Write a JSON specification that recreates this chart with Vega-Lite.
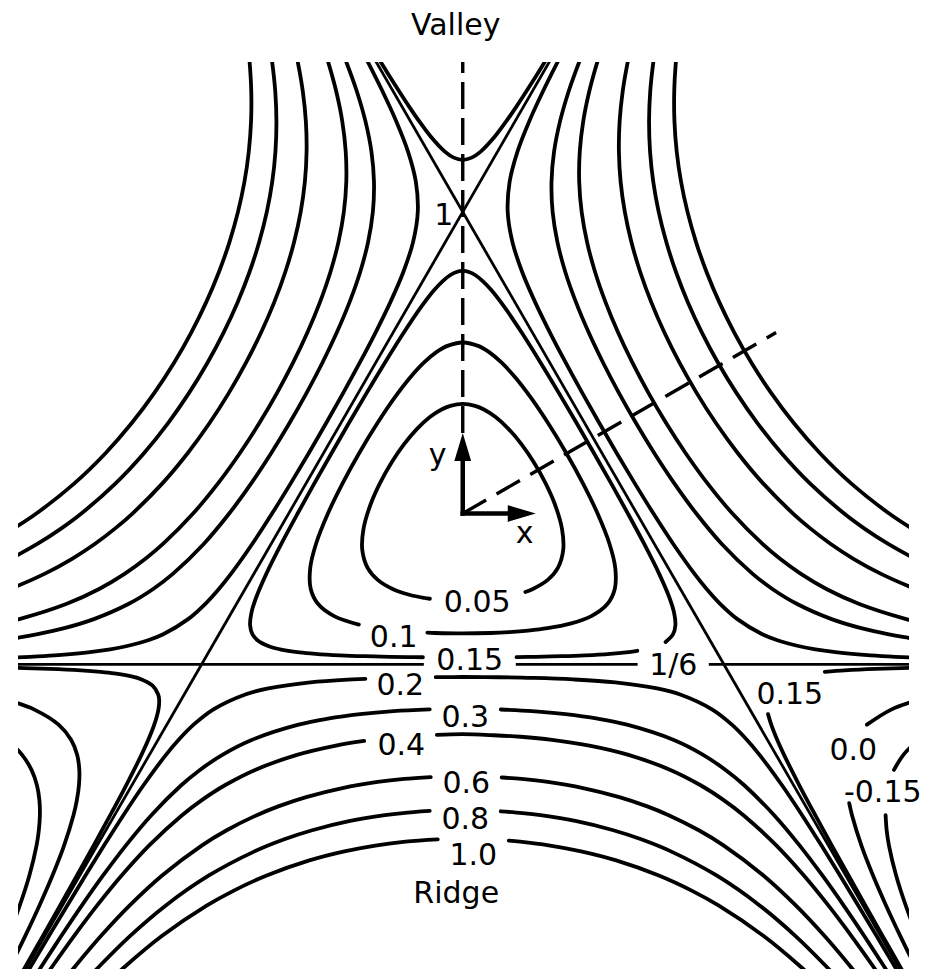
{
  "$schema": "https://vega.github.io/schema/vega-lite/v6.json",
  "width": 891,
  "height": 907,
  "autosize": {"type": "none"},
  "padding": {"left": 18, "top": 62, "right": 21, "bottom": 8},
  "background": "white",
  "config": {"view": {"stroke": null}},
  "datasets": {
    "contours": [
      {"c":"r10","x":1.55,"y":-0.085},{"c":"r10","x":1.4898,"y":-0.05},{"c":"r10","x":1.4142,"y":0},{"c":"r10","x":1.288,"y":0.1},{"c":"r10","x":1.1848,"y":0.2},{"c":"r10","x":1.0977,"y":0.3},{"c":"r10","x":1.0227,"y":0.4},{"c":"r10","x":0.9574,"y":0.5},{"c":"r10","x":0.9005,"y":0.6},{"c":"r10","x":0.8511,"y":0.7},{"c":"r10","x":0.8089,"y":0.8},{"c":"r10","x":0.7737,"y":0.9},{"c":"r10","x":0.7454,"y":1.0},{"c":"r10","x":0.724,"y":1.1},{"c":"r10","x":0.7096,"y":1.2},{"c":"r10","x":0.7021,"y":1.3},{"c":"r10","x":0.7014,"y":1.4},{"c":"r10","x":0.7071,"y":1.5},{"c":"r10","x":0.7123,"y":1.55},
      {"c":"l10","x":-1.55,"y":-0.085},{"c":"l10","x":-1.4898,"y":-0.05},{"c":"l10","x":-1.4142,"y":0},{"c":"l10","x":-1.288,"y":0.1},{"c":"l10","x":-1.1848,"y":0.2},{"c":"l10","x":-1.0977,"y":0.3},{"c":"l10","x":-1.0227,"y":0.4},{"c":"l10","x":-0.9574,"y":0.5},{"c":"l10","x":-0.9005,"y":0.6},{"c":"l10","x":-0.8511,"y":0.7},{"c":"l10","x":-0.8089,"y":0.8},{"c":"l10","x":-0.7737,"y":0.9},{"c":"l10","x":-0.7454,"y":1.0},{"c":"l10","x":-0.724,"y":1.1},{"c":"l10","x":-0.7096,"y":1.2},{"c":"l10","x":-0.7021,"y":1.3},{"c":"l10","x":-0.7014,"y":1.4},{"c":"l10","x":-0.7071,"y":1.5},{"c":"l10","x":-0.7123,"y":1.55},
      {"c":"r08","x":1.55,"y":-0.174},{"c":"r08","x":1.5001,"y":-0.15},{"c":"r08","x":1.4095,"y":-0.1},{"c":"r08","x":1.3323,"y":-0.05},{"c":"r08","x":1.2649,"y":0},{"c":"r08","x":1.1513,"y":0.1},{"c":"r08","x":1.0574,"y":0.2},{"c":"r08","x":0.9772,"y":0.3},{"c":"r08","x":0.9076,"y":0.4},{"c":"r08","x":0.8466,"y":0.5},{"c":"r08","x":0.7932,"y":0.6},{"c":"r08","x":0.7468,"y":0.7},{"c":"r08","x":0.7075,"y":0.8},{"c":"r08","x":0.6751,"y":0.9},{"c":"r08","x":0.6498,"y":1.0},{"c":"r08","x":0.6318,"y":1.1},{"c":"r08","x":0.6212,"y":1.2},{"c":"r08","x":0.6179,"y":1.3},{"c":"r08","x":0.6218,"y":1.4},{"c":"r08","x":0.6325,"y":1.5},{"c":"r08","x":0.6401,"y":1.55},
      {"c":"l08","x":-1.55,"y":-0.174},{"c":"l08","x":-1.5001,"y":-0.15},{"c":"l08","x":-1.4095,"y":-0.1},{"c":"l08","x":-1.3323,"y":-0.05},{"c":"l08","x":-1.2649,"y":0},{"c":"l08","x":-1.1513,"y":0.1},{"c":"l08","x":-1.0574,"y":0.2},{"c":"l08","x":-0.9772,"y":0.3},{"c":"l08","x":-0.9076,"y":0.4},{"c":"l08","x":-0.8466,"y":0.5},{"c":"l08","x":-0.7932,"y":0.6},{"c":"l08","x":-0.7468,"y":0.7},{"c":"l08","x":-0.7075,"y":0.8},{"c":"l08","x":-0.6751,"y":0.9},{"c":"l08","x":-0.6498,"y":1.0},{"c":"l08","x":-0.6318,"y":1.1},{"c":"l08","x":-0.6212,"y":1.2},{"c":"l08","x":-0.6179,"y":1.3},{"c":"l08","x":-0.6218,"y":1.4},{"c":"l08","x":-0.6325,"y":1.5},{"c":"l08","x":-0.6401,"y":1.55},
      {"c":"r06","x":1.55,"y":-0.2676},{"c":"r06","x":1.5014,"y":-0.25},{"c":"r06","x":1.3873,"y":-0.2},{"c":"r06","x":1.2957,"y":-0.15},{"c":"r06","x":1.2193,"y":-0.1},{"c":"r06","x":1.1535,"y":-0.05},{"c":"r06","x":1.0954,"y":0},{"c":"r06","x":0.9961,"y":0.1},{"c":"r06","x":0.9124,"y":0.2},{"c":"r06","x":0.8396,"y":0.3},{"c":"r06","x":0.7756,"y":0.4},{"c":"r06","x":0.7188,"y":0.5},{"c":"r06","x":0.6688,"y":0.6},{"c":"r06","x":0.6254,"y":0.7},{"c":"r06","x":0.5888,"y":0.8},{"c":"r06","x":0.5593,"y":0.9},{"c":"r06","x":0.5375,"y":1.0},{"c":"r06","x":0.5236,"y":1.1},{"c":"r06","x":0.5179,"y":1.2},{"c":"r06","x":0.5203,"y":1.3},{"c":"r06","x":0.5305,"y":1.4},{"c":"r06","x":0.5477,"y":1.5},{"c":"r06","x":0.5588,"y":1.55},
      {"c":"l06","x":-1.55,"y":-0.2676},{"c":"l06","x":-1.5014,"y":-0.25},{"c":"l06","x":-1.3873,"y":-0.2},{"c":"l06","x":-1.2957,"y":-0.15},{"c":"l06","x":-1.2193,"y":-0.1},{"c":"l06","x":-1.1535,"y":-0.05},{"c":"l06","x":-1.0954,"y":0},{"c":"l06","x":-0.9961,"y":0.1},{"c":"l06","x":-0.9124,"y":0.2},{"c":"l06","x":-0.8396,"y":0.3},{"c":"l06","x":-0.7756,"y":0.4},{"c":"l06","x":-0.7188,"y":0.5},{"c":"l06","x":-0.6688,"y":0.6},{"c":"l06","x":-0.6254,"y":0.7},{"c":"l06","x":-0.5888,"y":0.8},{"c":"l06","x":-0.5593,"y":0.9},{"c":"l06","x":-0.5375,"y":1.0},{"c":"l06","x":-0.5236,"y":1.1},{"c":"l06","x":-0.5179,"y":1.2},{"c":"l06","x":-0.5203,"y":1.3},{"c":"l06","x":-0.5305,"y":1.4},{"c":"l06","x":-0.5477,"y":1.5},{"c":"l06","x":-0.5588,"y":1.55},
      {"c":"r04","x":1.55,"y":-0.3686},{"c":"r04","x":1.4707,"y":-0.35},{"c":"r04","x":1.3153,"y":-0.3},{"c":"r04","x":1.2059,"y":-0.25},{"c":"r04","x":1.1215,"y":-0.2},{"c":"r04","x":1.0524,"y":-0.15},{"c":"r04","x":0.9933,"y":-0.1},{"c":"r04","x":0.8944,"y":0},{"c":"r04","x":0.8117,"y":0.1},{"c":"r04","x":0.7394,"y":0.2},{"c":"r04","x":0.6745,"y":0.3},{"c":"r04","x":0.6158,"y":0.4},{"c":"r04","x":0.5627,"y":0.5},{"c":"r04","x":0.5152,"y":0.6},{"c":"r04","x":0.4738,"y":0.7},{"c":"r04","x":0.4391,"y":0.8},{"c":"r04","x":0.4123,"y":0.9},{"c":"r04","x":0.3944,"y":1.0},{"c":"r04","x":0.3862,"y":1.1},{"c":"r04","x":0.3881,"y":1.2},{"c":"r04","x":0.3995,"y":1.3},{"c":"r04","x":0.4197,"y":1.4},{"c":"r04","x":0.4472,"y":1.5},{"c":"r04","x":0.4633,"y":1.55},
      {"c":"l04","x":-1.55,"y":-0.3686},{"c":"l04","x":-1.4707,"y":-0.35},{"c":"l04","x":-1.3153,"y":-0.3},{"c":"l04","x":-1.2059,"y":-0.25},{"c":"l04","x":-1.1215,"y":-0.2},{"c":"l04","x":-1.0524,"y":-0.15},{"c":"l04","x":-0.9933,"y":-0.1},{"c":"l04","x":-0.8944,"y":0},{"c":"l04","x":-0.8117,"y":0.1},{"c":"l04","x":-0.7394,"y":0.2},{"c":"l04","x":-0.6745,"y":0.3},{"c":"l04","x":-0.6158,"y":0.4},{"c":"l04","x":-0.5627,"y":0.5},{"c":"l04","x":-0.5152,"y":0.6},{"c":"l04","x":-0.4738,"y":0.7},{"c":"l04","x":-0.4391,"y":0.8},{"c":"l04","x":-0.4123,"y":0.9},{"c":"l04","x":-0.3944,"y":1.0},{"c":"l04","x":-0.3862,"y":1.1},{"c":"l04","x":-0.3881,"y":1.2},{"c":"l04","x":-0.3995,"y":1.3},{"c":"l04","x":-0.4197,"y":1.4},{"c":"l04","x":-0.4472,"y":1.5},{"c":"l04","x":-0.4633,"y":1.55},
      {"c":"r03","x":1.55,"y":-0.4227},{"c":"r03","x":1.4643,"y":-0.41},{"c":"r03","x":1.4095,"y":-0.4},{"c":"r03","x":1.3213,"y":-0.38},{"c":"r03","x":1.2233,"y":-0.35},{"c":"r03","x":1.1091,"y":-0.3},{"c":"r03","x":1.0267,"y":-0.25},{"c":"r03","x":0.9615,"y":-0.2},{"c":"r03","x":0.8583,"y":-0.1},{"c":"r03","x":0.7746,"y":0},{"c":"r03","x":0.7016,"y":0.1},{"c":"r03","x":0.6355,"y":0.2},{"c":"r03","x":0.5745,"y":0.3},{"c":"r03","x":0.5178,"y":0.4},{"c":"r03","x":0.4655,"y":0.5},{"c":"r03","x":0.4178,"y":0.6},{"c":"r03","x":0.3757,"y":0.7},{"c":"r03","x":0.3404,"y":0.8},{"c":"r03","x":0.314,"y":0.9},{"c":"r03","x":0.2981,"y":1.0},{"c":"r03","x":0.2944,"y":1.1},{"c":"r03","x":0.3029,"y":1.2},{"c":"r03","x":0.3226,"y":1.3},{"c":"r03","x":0.3514,"y":1.4},{"c":"r03","x":0.3873,"y":1.5},{"c":"r03","x":0.4073,"y":1.55},
      {"c":"l03","x":-1.55,"y":-0.4227},{"c":"l03","x":-1.4643,"y":-0.41},{"c":"l03","x":-1.4095,"y":-0.4},{"c":"l03","x":-1.3213,"y":-0.38},{"c":"l03","x":-1.2233,"y":-0.35},{"c":"l03","x":-1.1091,"y":-0.3},{"c":"l03","x":-1.0267,"y":-0.25},{"c":"l03","x":-0.9615,"y":-0.2},{"c":"l03","x":-0.8583,"y":-0.1},{"c":"l03","x":-0.7746,"y":0},{"c":"l03","x":-0.7016,"y":0.1},{"c":"l03","x":-0.6355,"y":0.2},{"c":"l03","x":-0.5745,"y":0.3},{"c":"l03","x":-0.5178,"y":0.4},{"c":"l03","x":-0.4655,"y":0.5},{"c":"l03","x":-0.4178,"y":0.6},{"c":"l03","x":-0.3757,"y":0.7},{"c":"l03","x":-0.3404,"y":0.8},{"c":"l03","x":-0.314,"y":0.9},{"c":"l03","x":-0.2981,"y":1.0},{"c":"l03","x":-0.2944,"y":1.1},{"c":"l03","x":-0.3029,"y":1.2},{"c":"l03","x":-0.3226,"y":1.3},{"c":"l03","x":-0.3514,"y":1.4},{"c":"l03","x":-0.3873,"y":1.5},{"c":"l03","x":-0.4073,"y":1.55},
      {"c":"r02","x":1.55,"y":-0.48},{"c":"r02","x":1.4348,"y":-0.475},{"c":"r02","x":1.3533,"y":-0.47},{"c":"r02","x":1.2425,"y":-0.46},{"c":"r02","x":1.1694,"y":-0.45},{"c":"r02","x":1.1166,"y":-0.44},{"c":"r02","x":1.0435,"y":-0.42},{"c":"r02","x":0.9933,"y":-0.4},{"c":"r02","x":0.9109,"y":-0.35},{"c":"r02","x":0.8544,"y":-0.3},{"c":"r02","x":0.8088,"y":-0.25},{"c":"r02","x":0.7688,"y":-0.2},{"c":"r02","x":0.6976,"y":-0.1},{"c":"r02","x":0.6325,"y":0},{"c":"r02","x":0.5706,"y":0.1},{"c":"r02","x":0.5108,"y":0.2},{"c":"r02","x":0.4528,"y":0.3},{"c":"r02","x":0.3963,"y":0.4},{"c":"r02","x":0.3416,"y":0.5},{"c":"r02","x":0.2892,"y":0.6},{"c":"r02","x":0.2404,"y":0.7},{"c":"r02","x":0.1974,"y":0.8},{"c":"r02","x":0.1648,"y":0.9},{"c":"r02","x":0.1491,"y":1.0},{"c":"r02","x":0.1555,"y":1.1},{"c":"r02","x":0.1815,"y":1.2},{"c":"r02","x":0.2203,"y":1.3},{"c":"r02","x":0.2662,"y":1.4},{"c":"r02","x":0.3162,"y":1.5},{"c":"r02","x":0.3422,"y":1.55},
      {"c":"l02","x":-1.55,"y":-0.48},{"c":"l02","x":-1.4348,"y":-0.475},{"c":"l02","x":-1.3533,"y":-0.47},{"c":"l02","x":-1.2425,"y":-0.46},{"c":"l02","x":-1.1694,"y":-0.45},{"c":"l02","x":-1.1166,"y":-0.44},{"c":"l02","x":-1.0435,"y":-0.42},{"c":"l02","x":-0.9933,"y":-0.4},{"c":"l02","x":-0.9109,"y":-0.35},{"c":"l02","x":-0.8544,"y":-0.3},{"c":"l02","x":-0.8088,"y":-0.25},{"c":"l02","x":-0.7688,"y":-0.2},{"c":"l02","x":-0.6976,"y":-0.1},{"c":"l02","x":-0.6325,"y":0},{"c":"l02","x":-0.5706,"y":0.1},{"c":"l02","x":-0.5108,"y":0.2},{"c":"l02","x":-0.4528,"y":0.3},{"c":"l02","x":-0.3963,"y":0.4},{"c":"l02","x":-0.3416,"y":0.5},{"c":"l02","x":-0.2892,"y":0.6},{"c":"l02","x":-0.2404,"y":0.7},{"c":"l02","x":-0.1974,"y":0.8},{"c":"l02","x":-0.1648,"y":0.9},{"c":"l02","x":-0.1491,"y":1.0},{"c":"l02","x":-0.1555,"y":1.1},{"c":"l02","x":-0.1815,"y":1.2},{"c":"l02","x":-0.2203,"y":1.3},{"c":"l02","x":-0.2662,"y":1.4},{"c":"l02","x":-0.3162,"y":1.5},{"c":"l02","x":-0.3422,"y":1.55},
      {"c":"u015","x":-0.3045,"y":1.55},{"c":"u015","x":-0.2739,"y":1.5},{"c":"u015","x":-0.2428,"y":1.45},{"c":"u015","x":-0.2111,"y":1.4},{"c":"u015","x":-0.1784,"y":1.35},{"c":"u015","x":-0.144,"y":1.3},{"c":"u015","x":-0.1064,"y":1.25},{"c":"u015","x":-0.0594,"y":1.2},{"c":"u015","x":-0.0297,"y":1.18},{"c":"u015","x":0,"y":1.1728},{"c":"u015","x":0.0297,"y":1.18},{"c":"u015","x":0.0594,"y":1.2},{"c":"u015","x":0.1064,"y":1.25},{"c":"u015","x":0.144,"y":1.3},{"c":"u015","x":0.1784,"y":1.35},{"c":"u015","x":0.2111,"y":1.4},{"c":"u015","x":0.2428,"y":1.45},{"c":"u015","x":0.2739,"y":1.5},{"c":"u015","x":0.3045,"y":1.55},
      {"c":"i005","x":0.2076,"y":-0.26},{"c":"i005","x":0.2327,"y":-0.25},{"c":"i005","x":0.2819,"y":-0.22},{"c":"i005","x":0.3155,"y":-0.18},{"c":"i005","x":0.3333,"y":-0.12},{"c":"i005","x":0.329,"y":-0.05},{"c":"i005","x":0.3058,"y":0.03},{"c":"i005","x":0.2749,"y":0.1},{"c":"i005","x":0.2356,"y":0.17},{"c":"i005","x":0.1945,"y":0.23},{"c":"i005","x":0.1524,"y":0.28},{"c":"i005","x":0.1089,"y":0.32},{"c":"i005","x":0.0703,"y":0.345},{"c":"i005","x":0.041,"y":0.357},{"c":"i005","x":0,"y":0.3633},{"c":"i005","x":-0.041,"y":0.357},{"c":"i005","x":-0.0703,"y":0.345},{"c":"i005","x":-0.1089,"y":0.32},{"c":"i005","x":-0.1524,"y":0.28},{"c":"i005","x":-0.1945,"y":0.23},{"c":"i005","x":-0.2356,"y":0.17},{"c":"i005","x":-0.2749,"y":0.1},{"c":"i005","x":-0.3058,"y":0.03},{"c":"i005","x":-0.329,"y":-0.05},{"c":"i005","x":-0.3333,"y":-0.12},{"c":"i005","x":-0.3155,"y":-0.18},{"c":"i005","x":-0.2819,"y":-0.22},{"c":"i005","x":-0.2327,"y":-0.25},{"c":"i005","x":-0.1743,"y":-0.27},{"c":"i005","x":-0.1258,"y":-0.28},{"c":"i005","x":-0.109,"y":-0.2825},
      {"c":"i01","x":-0.1173,"y":-0.395},{"c":"i01","x":-0.0926,"y":-0.396},{"c":"i01","x":0,"y":-0.3976},{"c":"i01","x":0.0926,"y":-0.396},{"c":"i01","x":0.1541,"y":-0.393},{"c":"i01","x":0.2167,"y":-0.388},{"c":"i01","x":0.2815,"y":-0.38},{"c":"i01","x":0.3567,"y":-0.365},{"c":"i01","x":0.4265,"y":-0.34},{"c":"i01","x":0.4796,"y":-0.3},{"c":"i01","x":0.5042,"y":-0.25},{"c":"i01","x":0.5058,"y":-0.18},{"c":"i01","x":0.4865,"y":-0.1},{"c":"i01","x":0.4472,"y":0},{"c":"i01","x":0.3986,"y":0.1},{"c":"i01","x":0.3437,"y":0.2},{"c":"i01","x":0.2828,"y":0.3},{"c":"i01","x":0.2289,"y":0.38},{"c":"i01","x":0.1751,"y":0.45},{"c":"i01","x":0.1291,"y":0.5},{"c":"i01","x":0.0875,"y":0.535},{"c":"i01","x":0.0531,"y":0.555},{"c":"i01","x":0,"y":0.5671},{"c":"i01","x":-0.0531,"y":0.555},{"c":"i01","x":-0.0875,"y":0.535},{"c":"i01","x":-0.1291,"y":0.5},{"c":"i01","x":-0.1751,"y":0.45},{"c":"i01","x":-0.2289,"y":0.38},{"c":"i01","x":-0.2828,"y":0.3},{"c":"i01","x":-0.3437,"y":0.2},{"c":"i01","x":-0.3986,"y":0.1},{"c":"i01","x":-0.4472,"y":0},{"c":"i01","x":-0.4865,"y":-0.1},{"c":"i01","x":-0.5058,"y":-0.18},{"c":"i01","x":-0.5042,"y":-0.25},{"c":"i01","x":-0.4796,"y":-0.3},{"c":"i01","x":-0.4265,"y":-0.34},{"c":"i01","x":-0.3446,"y":-0.368},
      {"c":"i015a","x":0.1782,"y":-0.476},{"c":"i015a","x":0.242,"y":-0.475},{"c":"i015a","x":0.3255,"y":-0.473},{"c":"i015a","x":0.4059,"y":-0.47},{"c":"i015a","x":0.4891,"y":-0.465},{"c":"i015a","x":0.5421,"y":-0.46},{"c":"i015a","x":0.5791,"y":-0.455},
      {"c":"i015b","x":0.6728,"y":-0.426},{"c":"i015b","x":0.6976,"y":-0.4},{"c":"i015b","x":0.7053,"y":-0.37},{"c":"i015b","x":0.7011,"y":-0.33},{"c":"i015b","x":0.6858,"y":-0.28},{"c":"i015b","x":0.6515,"y":-0.2},{"c":"i015b","x":0.6014,"y":-0.1},{"c":"i015b","x":0.5477,"y":0},{"c":"i015b","x":0.4922,"y":0.1},{"c":"i015b","x":0.4353,"y":0.2},{"c":"i015b","x":0.3775,"y":0.3},{"c":"i015b","x":0.3186,"y":0.4},{"c":"i015b","x":0.2582,"y":0.5},{"c":"i015b","x":0.1954,"y":0.6},{"c":"i015b","x":0.1415,"y":0.68},{"c":"i015b","x":0.0954,"y":0.74},{"c":"i015b","x":0.0672,"y":0.77},{"c":"i015b","x":0.0422,"y":0.79},{"c":"i015b","x":0.0227,"y":0.8},{"c":"i015b","x":0,"y":0.80425},{"c":"i015b","x":-0.0227,"y":0.8},{"c":"i015b","x":-0.0422,"y":0.79},{"c":"i015b","x":-0.0672,"y":0.77},{"c":"i015b","x":-0.0954,"y":0.74},{"c":"i015b","x":-0.1415,"y":0.68},{"c":"i015b","x":-0.1954,"y":0.6},{"c":"i015b","x":-0.2582,"y":0.5},{"c":"i015b","x":-0.3186,"y":0.4},{"c":"i015b","x":-0.3775,"y":0.3},{"c":"i015b","x":-0.4353,"y":0.2},{"c":"i015b","x":-0.4922,"y":0.1},{"c":"i015b","x":-0.5477,"y":0},{"c":"i015b","x":-0.6014,"y":-0.1},{"c":"i015b","x":-0.6515,"y":-0.2},{"c":"i015b","x":-0.6858,"y":-0.28},{"c":"i015b","x":-0.7011,"y":-0.33},{"c":"i015b","x":-0.7053,"y":-0.37},{"c":"i015b","x":-0.6976,"y":-0.4},{"c":"i015b","x":-0.681,"y":-0.42},{"c":"i015b","x":-0.643,"y":-0.44},{"c":"i015b","x":-0.6062,"y":-0.45},{"c":"i015b","x":-0.5421,"y":-0.46},{"c":"i015b","x":-0.4891,"y":-0.465},{"c":"i015b","x":-0.4059,"y":-0.47},{"c":"i015b","x":-0.3255,"y":-0.473},{"c":"i015b","x":-0.242,"y":-0.475},{"c":"i015b","x":-0.1782,"y":-0.476},{"c":"i015b","x":-0.1321,"y":-0.4765},
      {"c":"b02L","x":-1.4614,"y":-1.55},{"c":"b02L","x":-1.4318,"y":-1.5},{"c":"b02L","x":-1.3722,"y":-1.4},{"c":"b02L","x":-1.3121,"y":-1.3},{"c":"b02L","x":-1.2513,"y":-1.2},{"c":"b02L","x":-1.1893,"y":-1.1},{"c":"b02L","x":-1.1255,"y":-1.0},{"c":"b02L","x":-1.0583,"y":-0.9},{"c":"b02L","x":-0.9843,"y":-0.8},{"c":"b02L","x":-0.9421,"y":-0.75},{"c":"b02L","x":-0.8926,"y":-0.7},{"c":"b02L","x":-0.8278,"y":-0.65},{"c":"b02L","x":-0.7211,"y":-0.6},{"c":"b02L","x":-0.6446,"y":-0.58},{"c":"b02L","x":-0.5056,"y":-0.56},{"c":"b02L","x":-0.3663,"y":-0.55},{"c":"b02L","x":-0.323,"y":-0.548},
      {"c":"b02R","x":-0.0896,"y":-0.5425},{"c":"b02R","x":0,"y":-0.542},{"c":"b02R","x":0.12,"y":-0.5428},{"c":"b02R","x":0.2344,"y":-0.545},{"c":"b02R","x":0.3663,"y":-0.55},{"c":"b02R","x":0.5056,"y":-0.56},{"c":"b02R","x":0.6446,"y":-0.58},{"c":"b02R","x":0.7211,"y":-0.6},{"c":"b02R","x":0.8278,"y":-0.65},{"c":"b02R","x":0.8926,"y":-0.7},{"c":"b02R","x":0.9421,"y":-0.75},{"c":"b02R","x":0.9843,"y":-0.8},{"c":"b02R","x":1.0583,"y":-0.9},{"c":"b02R","x":1.1255,"y":-1.0},{"c":"b02R","x":1.1893,"y":-1.1},{"c":"b02R","x":1.2513,"y":-1.2},{"c":"b02R","x":1.3121,"y":-1.3},{"c":"b02R","x":1.3722,"y":-1.4},{"c":"b02R","x":1.4318,"y":-1.5},{"c":"b02R","x":1.4614,"y":-1.55},
      {"c":"b03L","x":-1.4285,"y":-1.55},{"c":"b03L","x":-1.3964,"y":-1.5},{"c":"b03L","x":-1.3311,"y":-1.4},{"c":"b03L","x":-1.2636,"y":-1.3},{"c":"b03L","x":-1.1928,"y":-1.2},{"c":"b03L","x":-1.117,"y":-1.1},{"c":"b03L","x":-1.0328,"y":-1.0},{"c":"b03L","x":-0.9327,"y":-0.9},{"c":"b03L","x":-0.8717,"y":-0.85},{"c":"b03L","x":-0.7972,"y":-0.8},{"c":"b03L","x":-0.6982,"y":-0.75},{"c":"b03L","x":-0.5447,"y":-0.7},{"c":"b03L","x":-0.4473,"y":-0.68},{"c":"b03L","x":-0.3406,"y":-0.665},{"c":"b03L","x":-0.2298,"y":-0.655},{"c":"b03L","x":-0.1095,"y":-0.6491},
      {"c":"b03R","x":0.126,"y":-0.6496},{"c":"b03R","x":0.2298,"y":-0.655},{"c":"b03R","x":0.3406,"y":-0.665},{"c":"b03R","x":0.4473,"y":-0.68},{"c":"b03R","x":0.5447,"y":-0.7},{"c":"b03R","x":0.6982,"y":-0.75},{"c":"b03R","x":0.7972,"y":-0.8},{"c":"b03R","x":0.8717,"y":-0.85},{"c":"b03R","x":0.9327,"y":-0.9},{"c":"b03R","x":1.0328,"y":-1.0},{"c":"b03R","x":1.117,"y":-1.1},{"c":"b03R","x":1.1928,"y":-1.2},{"c":"b03R","x":1.2636,"y":-1.3},{"c":"b03R","x":1.3311,"y":-1.4},{"c":"b03R","x":1.3964,"y":-1.5},{"c":"b03R","x":1.4285,"y":-1.55},
      {"c":"b04L","x":-1.3947,"y":-1.55},{"c":"b04L","x":-1.3602,"y":-1.5},{"c":"b04L","x":-1.2887,"y":-1.4},{"c":"b04L","x":-1.2131,"y":-1.3},{"c":"b04L","x":-1.1314,"y":-1.2},{"c":"b04L","x":-1.0398,"y":-1.1},{"c":"b04L","x":-0.931,"y":-1.0},{"c":"b04L","x":-0.8654,"y":-0.95},{"c":"b04L","x":-0.7874,"y":-0.9},{"c":"b04L","x":-0.6886,"y":-0.85},{"c":"b04L","x":-0.5498,"y":-0.8},{"c":"b04L","x":-0.4244,"y":-0.77},{"c":"b04L","x":-0.3269,"y":-0.754},
      {"c":"b04R","x":-0.086,"y":-0.734},{"c":"b04R","x":0,"y":-0.7315},{"c":"b04R","x":0.1025,"y":-0.735},{"c":"b04R","x":0.1923,"y":-0.74},{"c":"b04R","x":0.2958,"y":-0.75},{"c":"b04R","x":0.4244,"y":-0.77},{"c":"b04R","x":0.5498,"y":-0.8},{"c":"b04R","x":0.6886,"y":-0.85},{"c":"b04R","x":0.7874,"y":-0.9},{"c":"b04R","x":0.8654,"y":-0.95},{"c":"b04R","x":0.931,"y":-1.0},{"c":"b04R","x":1.0398,"y":-1.1},{"c":"b04R","x":1.1314,"y":-1.2},{"c":"b04R","x":1.2131,"y":-1.3},{"c":"b04R","x":1.2887,"y":-1.4},{"c":"b04R","x":1.3602,"y":-1.5},{"c":"b04R","x":1.3947,"y":-1.55},
      {"c":"b06L","x":-1.3247,"y":-1.55},{"c":"b06L","x":-1.2845,"y":-1.5},{"c":"b06L","x":-1.1994,"y":-1.4},{"c":"b06L","x":-1.1053,"y":-1.3},{"c":"b06L","x":-0.9971,"y":-1.2},{"c":"b06L","x":-0.8647,"y":-1.1},{"c":"b06L","x":-0.7829,"y":-1.05},{"c":"b06L","x":-0.6831,"y":-1.0},{"c":"b06L","x":-0.6096,"y":-0.97},{"c":"b06L","x":-0.5193,"y":-0.94},{"c":"b06L","x":-0.3989,"y":-0.91},{"c":"b06L","x":-0.2821,"y":-0.89},{"c":"b06L","x":-0.1944,"y":-0.88},{"c":"b06L","x":-0.106,"y":-0.8738},
      {"c":"b06R","x":0.129,"y":-0.8751},{"c":"b06R","x":0.1944,"y":-0.88},{"c":"b06R","x":0.2821,"y":-0.89},{"c":"b06R","x":0.3989,"y":-0.91},{"c":"b06R","x":0.5193,"y":-0.94},{"c":"b06R","x":0.6096,"y":-0.97},{"c":"b06R","x":0.6831,"y":-1.0},{"c":"b06R","x":0.7829,"y":-1.05},{"c":"b06R","x":0.8647,"y":-1.1},{"c":"b06R","x":0.9971,"y":-1.2},{"c":"b06R","x":1.1053,"y":-1.3},{"c":"b06R","x":1.1994,"y":-1.4},{"c":"b06R","x":1.2845,"y":-1.5},{"c":"b06R","x":1.3247,"y":-1.55},
      {"c":"b08L","x":-1.2507,"y":-1.55},{"c":"b08L","x":-1.2042,"y":-1.5},{"c":"b08L","x":-1.1029,"y":-1.4},{"c":"b08L","x":-0.9857,"y":-1.3},{"c":"b08L","x":-0.8418,"y":-1.2},{"c":"b08L","x":-0.6904,"y":-1.12},{"c":"b08L","x":-0.5918,"y":-1.08},{"c":"b08L","x":-0.4993,"y":-1.05},{"c":"b08L","x":-0.3771,"y":-1.02},{"c":"b08L","x":-0.2582,"y":-1.0},{"c":"b08L","x":-0.1984,"y":-0.993},{"c":"b08L","x":-0.1095,"y":-0.9861},
      {"c":"b08R","x":0.126,"y":-0.9871},{"c":"b08R","x":0.1984,"y":-0.993},{"c":"b08R","x":0.2582,"y":-1.0},{"c":"b08R","x":0.3771,"y":-1.02},{"c":"b08R","x":0.4993,"y":-1.05},{"c":"b08R","x":0.5918,"y":-1.08},{"c":"b08R","x":0.6904,"y":-1.12},{"c":"b08R","x":0.8418,"y":-1.2},{"c":"b08R","x":0.9857,"y":-1.3},{"c":"b08R","x":1.1029,"y":-1.4},{"c":"b08R","x":1.2042,"y":-1.5},{"c":"b08R","x":1.2507,"y":-1.55},
      {"c":"b10L","x":-1.1721,"y":-1.55},{"c":"b10L","x":-1.118,"y":-1.5},{"c":"b10L","x":-0.997,"y":-1.4},{"c":"b10L","x":-0.8495,"y":-1.3},{"c":"b10L","x":-0.7592,"y":-1.25},{"c":"b10L","x":-0.6503,"y":-1.2},{"c":"b10L","x":-0.5087,"y":-1.15},{"c":"b10L","x":-0.3925,"y":-1.12},{"c":"b10L","x":-0.2848,"y":-1.1},{"c":"b10L","x":-0.1898,"y":-1.088},{"c":"b10L","x":-0.0829,"y":-1.0804},
      {"c":"b10R","x":0.1526,"y":-1.0846},{"c":"b10R","x":0.1898,"y":-1.088},{"c":"b10R","x":0.2848,"y":-1.1},{"c":"b10R","x":0.3925,"y":-1.12},{"c":"b10R","x":0.5087,"y":-1.15},{"c":"b10R","x":0.6503,"y":-1.2},{"c":"b10R","x":0.7592,"y":-1.25},{"c":"b10R","x":0.8495,"y":-1.3},{"c":"b10R","x":0.997,"y":-1.4},{"c":"b10R","x":1.118,"y":-1.5},{"c":"b10R","x":1.1721,"y":-1.55},
      {"c":"cL015","x":-1.5578,"y":-0.51},{"c":"cL015","x":-1.3698,"y":-0.515},{"c":"cL015","x":-1.2663,"y":-0.52},{"c":"cL015","x":-1.2008,"y":-0.525},{"c":"cL015","x":-1.1558,"y":-0.53},{"c":"cL015","x":-1.0987,"y":-0.54},{"c":"cL015","x":-1.065,"y":-0.55},{"c":"cL015","x":-1.0294,"y":-0.57},{"c":"cL015","x":-1.01,"y":-0.6},{"c":"cL015","x":-1.0068,"y":-0.62},{"c":"cL015","x":-1.0093,"y":-0.65},{"c":"cL015","x":-1.0231,"y":-0.7},{"c":"cL015","x":-1.0428,"y":-0.75},{"c":"cL015","x":-1.0656,"y":-0.8},{"c":"cL015","x":-1.1158,"y":-0.9},{"c":"cL015","x":-1.1691,"y":-1.0},{"c":"cL015","x":-1.2238,"y":-1.1},{"c":"cL015","x":-1.2795,"y":-1.2},{"c":"cL015","x":-1.3357,"y":-1.3},{"c":"cL015","x":-1.3923,"y":-1.4},{"c":"cL015","x":-1.4491,"y":-1.5},{"c":"cL015","x":-1.4776,"y":-1.55},
      {"c":"cR015a","x":1.5578,"y":-0.51},{"c":"cR015a","x":1.3698,"y":-0.515},{"c":"cR015a","x":1.2663,"y":-0.52},{"c":"cR015a","x":1.2008,"y":-0.525},
      {"c":"cR015b","x":1.0125,"y":-0.665},{"c":"cR015b","x":1.0231,"y":-0.7},{"c":"cR015b","x":1.0428,"y":-0.75},{"c":"cR015b","x":1.0656,"y":-0.8},{"c":"cR015b","x":1.1158,"y":-0.9},{"c":"cR015b","x":1.1691,"y":-1.0},{"c":"cR015b","x":1.2238,"y":-1.1},{"c":"cR015b","x":1.2795,"y":-1.2},{"c":"cR015b","x":1.3357,"y":-1.3},{"c":"cR015b","x":1.3923,"y":-1.4},{"c":"cR015b","x":1.4491,"y":-1.5},{"c":"cR015b","x":1.4776,"y":-1.55},
      {"c":"cL0","x":-1.564,"y":-0.605},{"c":"cL0","x":-1.5425,"y":-0.61},{"c":"cL0","x":-1.5046,"y":-0.62},{"c":"cL0","x":-1.4208,"y":-0.65},{"c":"cL0","x":-1.3404,"y":-0.7},{"c":"cL0","x":-1.299,"y":-0.75},{"c":"cL0","x":-1.2789,"y":-0.8},{"c":"cL0","x":-1.2716,"y":-0.85},{"c":"cL0","x":-1.2728,"y":-0.9},{"c":"cL0","x":-1.2798,"y":-0.95},{"c":"cL0","x":-1.291,"y":-1.0},{"c":"cL0","x":-1.322,"y":-1.1},{"c":"cL0","x":-1.3607,"y":-1.2},{"c":"cL0","x":-1.4042,"y":-1.3},{"c":"cL0","x":-1.4509,"y":-1.4},{"c":"cL0","x":-1.5,"y":-1.5},{"c":"cL0","x":-1.5252,"y":-1.55},
      {"c":"cR0a","x":1.564,"y":-0.605},{"c":"cR0a","x":1.5425,"y":-0.61},{"c":"cR0a","x":1.5046,"y":-0.62},{"c":"cR0a","x":1.4208,"y":-0.65},{"c":"cR0a","x":1.3404,"y":-0.7},
      {"c":"cR0b","x":1.2817,"y":-0.96},{"c":"cR0b","x":1.291,"y":-1.0},{"c":"cR0b","x":1.322,"y":-1.1},{"c":"cR0b","x":1.3607,"y":-1.2},{"c":"cR0b","x":1.4042,"y":-1.3},{"c":"cR0b","x":1.4509,"y":-1.4},{"c":"cR0b","x":1.5,"y":-1.5},{"c":"cR0b","x":1.5252,"y":-1.55},
      {"c":"cLm","x":-1.5958,"y":-0.7},{"c":"cLm","x":-1.5574,"y":-0.72},{"c":"cLm","x":-1.5125,"y":-0.75},{"c":"cLm","x":-1.4614,"y":-0.8},{"c":"cLm","x":-1.4302,"y":-0.85},{"c":"cLm","x":-1.4124,"y":-0.9},{"c":"cLm","x":-1.404,"y":-0.95},{"c":"cLm","x":-1.4024,"y":-1.0},{"c":"cLm","x":-1.4059,"y":-1.05},{"c":"cLm","x":-1.4134,"y":-1.1},{"c":"cLm","x":-1.4373,"y":-1.2},{"c":"cLm","x":-1.4694,"y":-1.3},{"c":"cLm","x":-1.5073,"y":-1.4},{"c":"cLm","x":-1.5492,"y":-1.5},
      {"c":"cRma","x":1.5958,"y":-0.7},{"c":"cRma","x":1.5574,"y":-0.72},{"c":"cRma","x":1.5125,"y":-0.75},{"c":"cRma","x":1.4614,"y":-0.8},{"c":"cRma","x":1.4302,"y":-0.85},
      {"c":"cRmb","x":1.4024,"y":-1.0},{"c":"cRmb","x":1.4059,"y":-1.05},{"c":"cRmb","x":1.4134,"y":-1.1},{"c":"cRmb","x":1.4373,"y":-1.2},{"c":"cRmb","x":1.4694,"y":-1.3},{"c":"cRmb","x":1.5073,"y":-1.4},{"c":"cRmb","x":1.5492,"y":-1.5}
    ],
    "separatrix": [
      {"c":"h1","x":-1.6,"y":-0.5},{"c":"h1","x":-0.129,"y":-0.5},
      {"c":"h2","x":0.176,"y":-0.5},{"c":"h2","x":0.58,"y":-0.5},
      {"c":"h3","x":0.816,"y":-0.5},{"c":"h3","x":1.6,"y":-0.5},
      {"c":"s1","x":0.3175,"y":1.55},{"c":"s1","x":-1.4722,"y":-1.55},
      {"c":"s2","x":-0.3175,"y":1.55},{"c":"s2","x":1.4722,"y":-1.55}
    ],
    "labels": [
      {"t":"Valley","x":-0.0232,"y":1.585},
      {"t":"1","x":-0.063,"y":0.9566},
      {"t":"y","x":-0.0829,"y":0.1608},
      {"t":"x","x":0.2056,"y":-0.0978},
      {"t":"0.05","x":0.0481,"y":-0.3266},
      {"t":"0.1","x":-0.2289,"y":-0.4426},
      {"t":"0.15","x":0.0232,"y":-0.5189},
      {"t":"1/6","x":0.6982,"y":-0.5355},
      {"t":"0.2","x":-0.2073,"y":-0.6018},
      {"t":"0.15","x":1.0846,"y":-0.6317},
      {"t":"0.3","x":0.0083,"y":-0.7079},
      {"t":"0.4","x":-0.204,"y":-0.8007},
      {"t":"0.0","x":1.2952,"y":-0.8173},
      {"t":"-0.15","x":1.393,"y":-0.9566},
      {"t":"0.6","x":0.0116,"y":-0.9267},
      {"t":"0.8","x":0.0083,"y":-1.0461},
      {"t":"1.0","x":0.0348,"y":-1.1638},
      {"t":"Ridge","x":-0.0216,"y":-1.2915}
    ]
  },
  "encoding": {
    "x": {"field": "x", "type": "quantitative", "scale": {"domain": [-1.475, 1.48], "nice": false, "zero": false}, "axis": null},
    "y": {"field": "y", "type": "quantitative", "scale": {"domain": [-1.51, 1.497], "nice": false, "zero": false}, "axis": null}
  },
  "layer": [
    {
      "data": {"name": "contours"},
      "mark": {"type": "line", "interpolate": "catmull-rom", "clip": true, "color": "black", "strokeWidth": 3.8, "strokeCap": "round", "strokeJoin": "round"},
      "encoding": {"detail": {"field": "c", "type": "nominal"}, "order": {"value": null}}
    },
    {
      "data": {"name": "separatrix"},
      "mark": {"type": "line", "clip": true, "color": "black", "strokeWidth": 2.8, "strokeCap": "butt"},
      "encoding": {"detail": {"field": "c", "type": "nominal"}, "order": {"value": null}}
    },
    {
      "data": {"values": [{"x": 0, "y": 0.267}, {"x": 0, "y": 1.55}]},
      "mark": {"type": "line", "clip": true, "color": "black", "strokeWidth": 3.4, "strokeDash": [27, 9]},
      "encoding": {"order": {"value": null}}
    },
    {
      "data": {"values": [{"x": 0, "y": 0}, {"x": 1.0392, "y": 0.6}]},
      "mark": {"type": "line", "clip": true, "color": "black", "strokeWidth": 3.4, "strokeDash": [27, 12]},
      "encoding": {"order": {"value": null}}
    },
    {
      "data": {"values": [{"c": "ay", "x": 0, "y": 0}, {"c": "ay", "x": 0, "y": 0.18}, {"c": "ax", "x": 0, "y": 0}, {"c": "ax", "x": 0.15, "y": 0}]},
      "mark": {"type": "line", "color": "black", "strokeWidth": 4.5, "strokeCap": "square"},
      "encoding": {"detail": {"field": "c", "type": "nominal"}, "order": {"value": null}}
    },
    {
      "data": {"values": [{"x": 0, "y": 0.2205}]},
      "mark": {"type": "point", "shape": "M0,-1L0.6,1L-0.6,1Z", "size": 784, "filled": true, "color": "black", "opacity": 1, "strokeWidth": 0}
    },
    {
      "data": {"values": [{"x": 0.1957, "y": 0}]},
      "mark": {"type": "point", "shape": "M1,0L-1,-0.6L-1,0.6Z", "size": 784, "filled": true, "color": "black", "opacity": 1, "strokeWidth": 0}
    },
    {
      "data": {"name": "labels"},
      "mark": {"type": "text", "font": "DejaVu Sans", "fontSize": 30, "align": "center", "baseline": "alphabetic", "color": "black"},
      "encoding": {"text": {"field": "t", "type": "nominal"}}
    }
  ]
}
